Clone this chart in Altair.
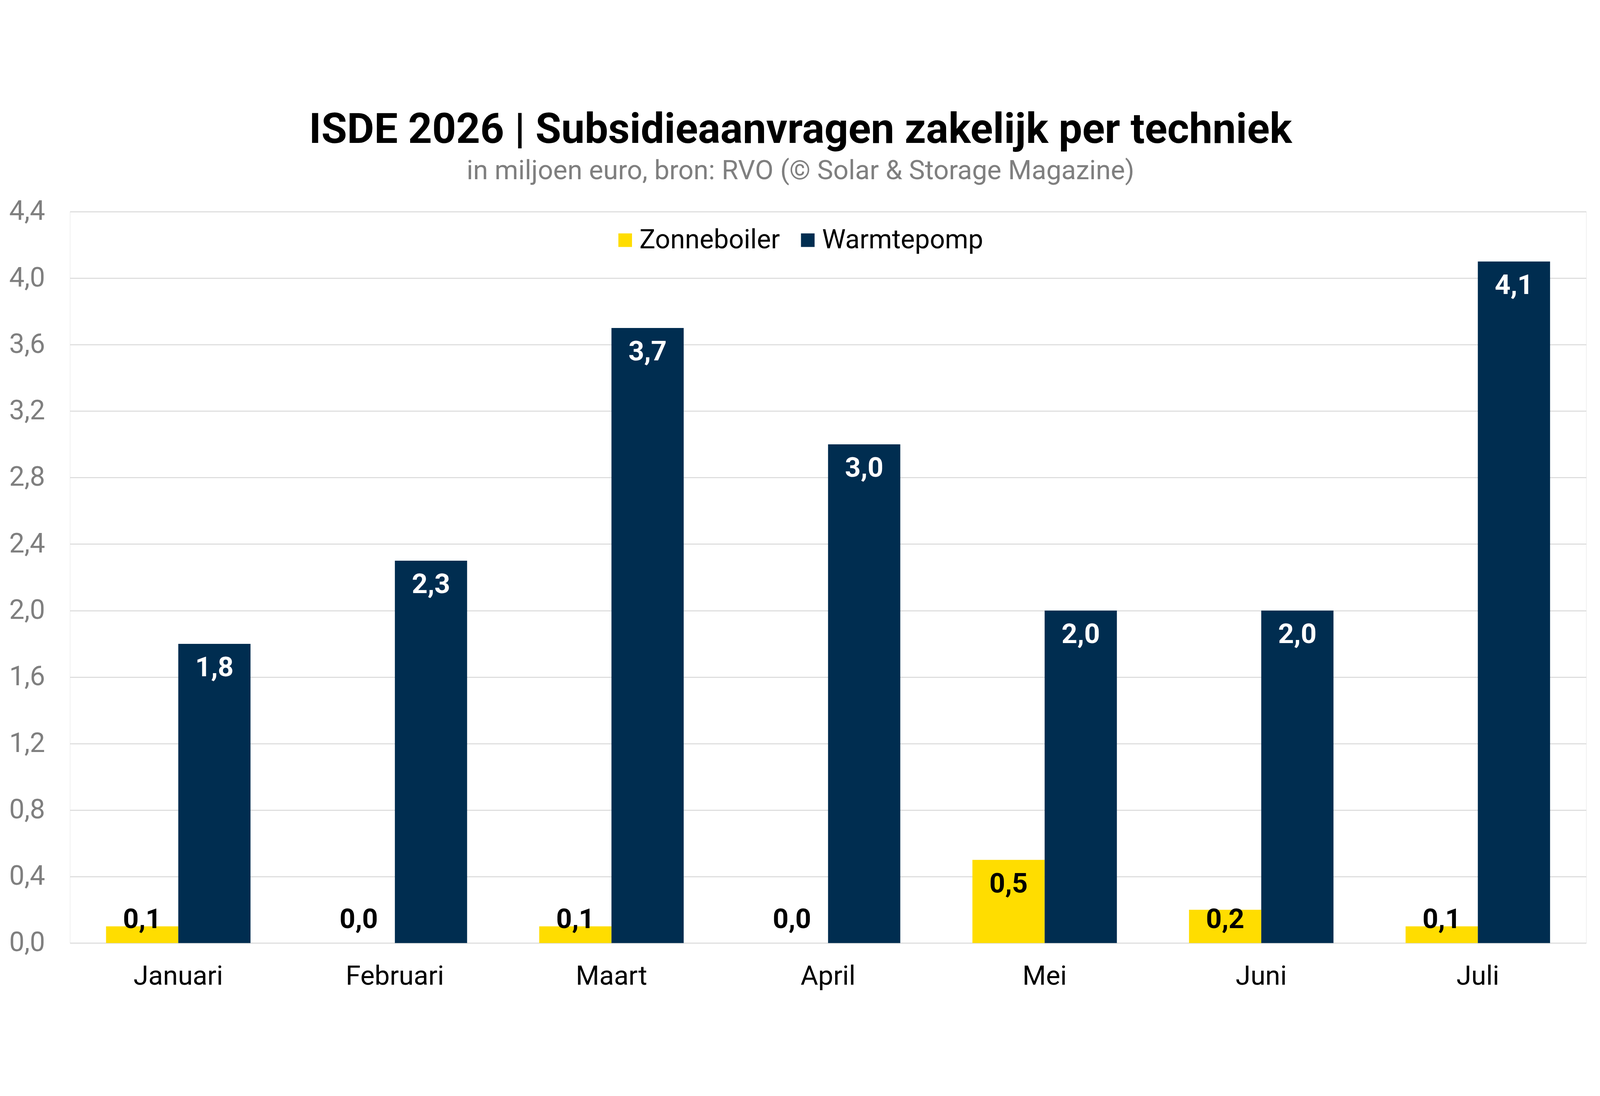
import altair as alt
import pandas as pd

months = ["Januari", "Februari", "Maart", "April", "Mei", "Juni", "Juli"]
series_names = ["Zonneboiler", "Warmtepomp"]
zonneboiler = [0.1, 0.0, 0.1, 0.0, 0.5, 0.2, 0.1]
warmtepomp = [1.8, 2.3, 3.7, 3.0, 2.0, 2.0, 4.1]
y_ticks = [0.0, 0.4, 0.8, 1.2, 1.6, 2.0, 2.4, 2.8, 3.2, 3.6, 4.0, 4.4]
colors = ["#FFDD00", "#002D50"]

rows = []
for i, m in enumerate(months):
    rows.append({"maand": m, "techniek": series_names[0], "waarde": zonneboiler[i]})
    rows.append({"maand": m, "techniek": series_names[1], "waarde": warmtepomp[i]})
df = pd.DataFrame(rows)

x_enc = alt.X("maand:N", sort=months, title=None,
              scale=alt.Scale(paddingInner=0.333, paddingOuter=0.1667),
              axis=alt.Axis(labelFont="Roboto", labelFontSize=83, labelColor="#000000",
                            labelPadding=62, ticks=False, domain=False, labelAngle=0,
                            labelLimit=2000))
xoff_enc = alt.XOffset("techniek:N", sort=series_names,
                       scale=alt.Scale(paddingInner=0, paddingOuter=0))

bars = alt.Chart(df).mark_bar().encode(
    x=x_enc,
    xOffset=xoff_enc,
    y=alt.Y("waarde:Q", title=None,
            scale=alt.Scale(domain=[0, 4.4], nice=False),
            axis=alt.Axis(values=y_ticks, labelFont="Roboto", labelFontSize=84,
                          labelColor="#7F7F7F", labelPadding=77, ticks=False, domain=False,
                          grid=True, gridColor="#D9D9D9", gridWidth=3, labelLimit=2000,
                          labelExpr="replace(format(datum.value, '.1f'), '.', ',')")),
    color=alt.Color("techniek:N", sort=series_names,
                    scale=alt.Scale(domain=series_names, range=colors),
                    legend=alt.Legend(title=None, orient="none", direction="horizontal",
                                      legendX=1671, legendY=47, padding=0,
                                      symbolType="square", symbolSize=1764, symbolStrokeWidth=0,
                                      labelFont="Roboto", labelFontSize=82, labelColor="#000000",
                                      labelOffset=3, columnPadding=44, labelLimit=2000)),
)

labels = alt.Chart(df).transform_calculate(
    pos="max(datum.waarde - 0.145, 0.14)",
    label="replace(format(datum.waarde, '.1f'), '.', ',')",
).mark_text(font="Roboto", fontWeight="bold", fontSize=85, baseline="middle", align="center").encode(
    x=alt.X("maand:N", sort=months),
    xOffset=xoff_enc,
    y=alt.Y("pos:Q"),
    text="label:N",
    color=alt.condition(alt.datum.techniek == "Warmtepomp", alt.value("#FFFFFF"), alt.value("#000000")),
)

chart = alt.layer(bars, labels).properties(
    width=4675,
    height=2256,
    padding={"left": 206, "top": 359, "right": 33, "bottom": 166},
    autosize=alt.AutoSizeParams(type="none"),
    title=alt.TitleParams(
        text="ISDE 2026 | Subsidieaanvragen zakelijk per techniek",
        subtitle="in miljoen euro, bron: RVO (© Solar & Storage Magazine)",
        font="Roboto", fontSize=129, fontWeight="bold", color="#000000",
        subtitleFont="Roboto", subtitleFontSize=83, subtitleColor="#7F7F7F",
        subtitlePadding=19, offset=40, anchor="middle", frame="bounds", dx=9,
    ),
).configure_view(stroke=None).configure(background="#FFFFFF")

chart.save("out.html", embed_options={"renderer": "svg", "actions": False})
